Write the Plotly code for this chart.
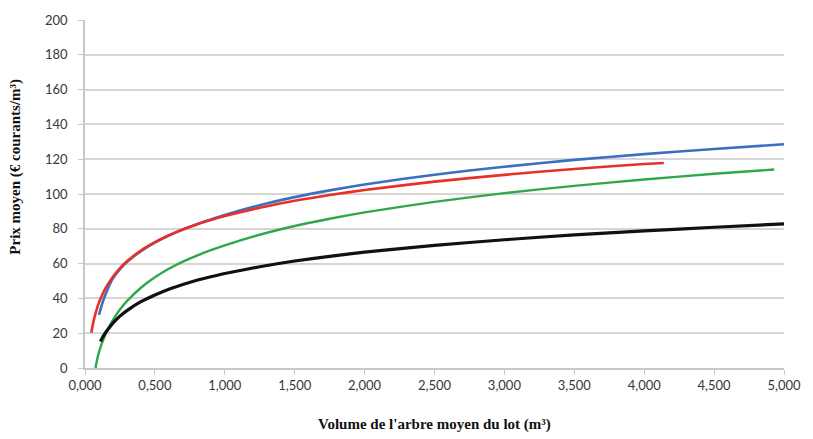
import plotly.graph_objects as go

# Mean price per lot (EUR/m3) versus mean tree volume of the lot (m3)
blue_x = [0.10, 0.125, 0.15, 0.20, 0.25, 0.30, 0.40, 0.50, 0.60, 0.70, 0.80, 0.90, 1.00,
          1.25, 1.50, 1.75, 2.00, 2.50, 3.00, 3.50, 4.00, 4.50, 5.00]
blue_y = [30.5, 37.5, 43.0, 51.5, 56.8, 60.9, 67.2, 72.1, 76.1, 79.6, 82.6, 85.4, 88.0,
          93.6, 98.2, 102.1, 105.5, 111.1, 115.7, 119.6, 122.9, 125.9, 128.6]

red_x = [0.045, 0.06, 0.08, 0.10, 0.125, 0.15, 0.20, 0.25, 0.30, 0.40, 0.50, 0.60, 0.70, 0.80,
         0.90, 1.00, 1.25, 1.50, 1.75, 2.00, 2.50, 3.00, 3.50, 4.00, 4.14]
red_y = [20.3, 26.5, 32.7, 37.6, 42.4, 46.3, 52.5, 57.4, 61.3, 67.5, 72.3, 76.3, 79.6, 82.5,
         85.0, 87.3, 92.1, 96.1, 99.4, 102.3, 107.1, 111.0, 114.4, 117.2, 117.8]

green_x = [0.075, 0.09, 0.11, 0.125, 0.15, 0.20, 0.25, 0.30, 0.40, 0.50, 0.60, 0.70, 0.80,
           0.90, 1.00, 1.25, 1.50, 1.75, 2.00, 2.50, 3.00, 3.50, 4.00, 4.50, 4.93]
green_y = [0.0, 6.0, 11.7, 15.0, 19.9, 27.6, 33.6, 38.4, 46.1, 52.1, 57.0, 61.1, 64.6,
           67.7, 70.5, 76.6, 81.6, 85.8, 89.4, 95.5, 100.5, 104.7, 108.3, 111.6, 114.1]

black_x = [0.11, 0.125, 0.15, 0.20, 0.25, 0.30, 0.40, 0.50, 0.60, 0.70, 0.80, 0.90, 1.00,
           1.25, 1.50, 1.75, 2.00, 2.50, 3.00, 3.50, 4.00, 4.50, 5.00]
black_y = [15.2, 17.5, 20.7, 25.8, 29.8, 33.0, 38.1, 42.0, 45.3, 48.0, 50.4, 52.4, 54.3,
           58.2, 61.5, 64.2, 66.6, 70.5, 73.7, 76.5, 78.8, 80.9, 82.8]

x_ticks = [0, 0.5, 1, 1.5, 2, 2.5, 3, 3.5, 4, 4.5, 5]
y_ticks = [0, 20, 40, 60, 80, 100, 120, 140, 160, 180, 200]

series = [
    (blue_x, blue_y, "#3b6fc0", 2.6),
    (red_x, red_y, "#e8302b", 2.6),
    (green_x, green_y, "#2fa84b", 2.4),
    (black_x, black_y, "#111111", 3.2),
]

fig = go.Figure()
for xs, ys, color, width in series:
    fig.add_trace(go.Scatter(
        x=xs, y=ys, mode="lines",
        line=dict(color=color, width=width, shape="spline", smoothing=0.6),
        showlegend=False, hoverinfo="skip",
    ))

tick_font = dict(family="Lato, Open Sans, sans-serif", size=13, color="#383838")
title_font = dict(family="Liberation Serif, DejaVu Serif, serif", size=15, color="#111111", weight="bold")

fig.update_layout(
    width=813, height=439,
    margin=dict(l=85, r=20, t=20, b=71),
    paper_bgcolor="white", plot_bgcolor="white",
    separators=", ",
    xaxis=dict(
        range=[0, 5], tickvals=x_ticks, tickformat=".3f",
        showgrid=False, zeroline=False,
        showline=True, linecolor="#c8c8c8", linewidth=1.5,
        ticks="outside", ticklen=5, tickcolor="#c8c8c8", tickwidth=1.2,
        tickfont=tick_font,
    ),
    yaxis=dict(
        range=[0, 200], tickvals=y_ticks,
        showgrid=True, gridcolor="#d6d6d6", gridwidth=1.5, zeroline=False,
        showline=True, linecolor="#c8c8c8", linewidth=1.5,
        ticks="outside", ticklen=5, tickcolor="#c8c8c8", tickwidth=1.2,
        tickfont=tick_font, ticklabelstandoff=8,
    ),
    annotations=[
        dict(text="Volume de l'arbre moyen du lot (m³)", xref="paper", yref="paper",
             x=0.5, y=-0.161, xanchor="center", yanchor="middle",
             showarrow=False, font=title_font),
        dict(text="Prix moyen (€ courants/m³)", xref="paper", yref="paper",
             x=-0.099, y=0.578, xanchor="center", yanchor="middle", textangle=-90,
             showarrow=False, font=title_font),
    ],
)

fig.write_html("out.html")
